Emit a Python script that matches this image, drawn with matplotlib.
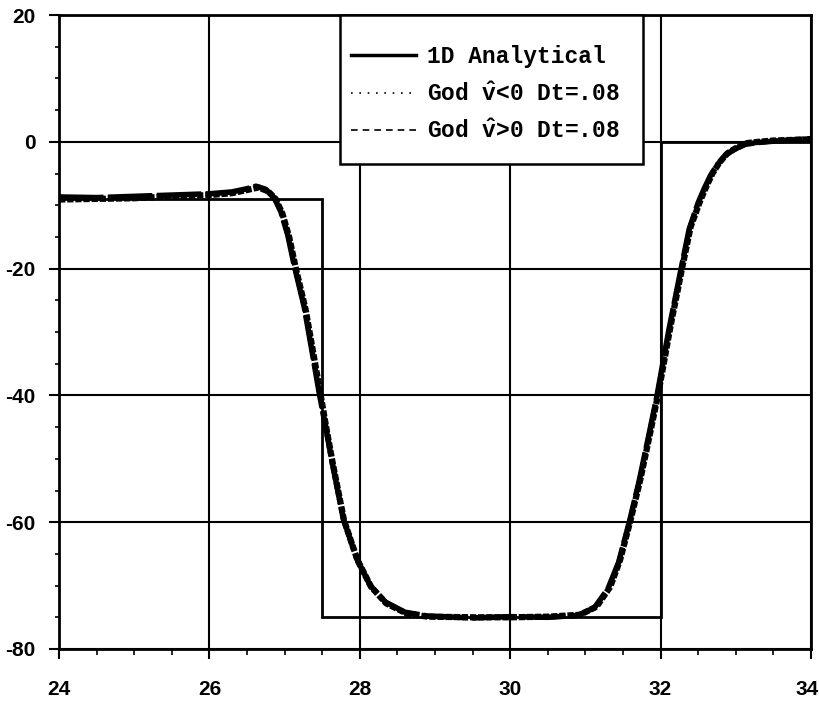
import numpy as np
import matplotlib.pyplot as plt
import matplotlib.transforms as mtransforms
from matplotlib.lines import Line2D
from matplotlib.patches import Rectangle
from matplotlib.ticker import MultipleLocator

plt.rcParams['axes.unicode_minus'] = False
plt.rcParams['font.family'] = ['Liberation Sans Narrow', 'Liberation Sans', 'DejaVu Sans']
plt.rcParams['font.weight'] = 'bold'
plt.rcParams['mathtext.fontset'] = 'custom'
plt.rcParams['mathtext.rm'] = 'Liberation Mono:bold'
plt.rcParams['mathtext.it'] = 'Liberation Mono:bold'

x_ticks = [24, 26, 28, 30, 32, 34]
y_ticks = [-80, -60, -40, -20, 0, 20]

# analytical step profile
x_exact = [24.0, 27.5, 27.5, 32.0, 32.0, 34.0]
y_exact = [-9.0, -9.0, -75.0, -75.0, 0.0, 0.0]

# numerical solution, v_hat < 0
x_neg = [24.0, 24.5, 25.0, 25.5, 26.0, 26.3, 26.5, 26.65, 26.78, 26.88, 26.97, 27.06, 27.15,
         27.28, 27.39, 27.48, 27.56, 27.64, 27.79, 27.97, 28.15, 28.35, 28.62, 28.9, 29.5,
         30.0, 30.5, 30.93, 31.15, 31.33, 31.46, 31.60, 31.73, 31.86, 31.97, 32.13, 32.29,
         32.40, 32.53, 32.61, 32.69, 32.78, 32.89, 33.0, 33.15, 33.3, 33.5, 34.0]
y_neg = [-9.1, -9.0, -8.9, -8.6, -8.4, -8.1, -7.6, -7.2, -7.8, -9.0, -11.3, -15.0, -20.0,
         -26.5, -33.9, -40.0, -45.5, -50.7, -59.7, -66.0, -70.2, -72.8, -74.4, -74.9, -75.0,
         -75.0, -74.9, -74.6, -73.3, -70.2, -66.0, -59.7, -53.3, -46.0, -39.7, -29.2, -19.7,
         -13.4, -9.2, -7.0, -5.0, -3.3, -1.8, -1.0, -0.2, 0.0, 0.2, 0.4]

# numerical solution, v_hat > 0
x_pos = [24.0, 24.5, 25.0, 25.5, 26.0, 26.3, 26.5, 26.62, 26.75, 26.86, 26.95, 27.04, 27.13,
         27.26, 27.37, 27.46, 27.55, 27.63, 27.78, 27.96, 28.14, 28.34, 28.6, 28.9, 29.5,
         30.0, 30.5, 30.9, 31.12, 31.3, 31.44, 31.58, 31.71, 31.84, 31.95, 32.11, 32.27,
         32.38, 32.5, 32.58, 32.66, 32.75, 32.86, 32.98, 33.12, 33.3, 33.5, 34.0]
y_pos = [-8.7, -8.8, -8.6, -8.4, -8.2, -7.9, -7.4, -7.0, -7.5, -8.8, -11.0, -14.6, -19.6,
         -26.0, -33.4, -39.6, -45.2, -50.4, -59.4, -65.8, -70.0, -72.6, -74.2, -74.8, -75.1,
         -74.9, -75.0, -74.7, -73.5, -70.5, -66.4, -60.2, -53.8, -46.5, -40.2, -29.7, -20.2,
         -13.8, -9.6, -7.4, -5.4, -3.7, -2.1, -1.2, -0.4, -0.1, 0.1, 0.5]

fig = plt.figure(figsize=(8.2, 7.02), dpi=100)
ax = fig.add_axes([0.0720, 0.0755, 0.9170, 0.9031])

ax.plot(x_exact, y_exact, color='black', lw=2.0, solid_joinstyle='miter')
ax.plot(x_neg, y_neg, color='black', lw=4.5, linestyle=(0, (1, 0.3)))
ax.plot(x_pos, y_pos, color='black', lw=4.0, linestyle=(0, (8, 0.8)))

ax.set_xlim(24, 34)
ax.set_ylim(-80, 20)
ax.set_xticks(x_ticks)
ax.set_yticks(y_ticks)
ax.xaxis.set_minor_locator(MultipleLocator(0.5))
ax.yaxis.set_minor_locator(MultipleLocator(5))
ax.grid(True, which='major', color='black', lw=1.5)

for s in ax.spines.values():
    s.set_linewidth(2.0)

ax.tick_params(which='major', direction='out', length=7, width=1.5, colors='black',
               labelsize=15)
ax.tick_params(axis='x', which='major', pad=15)
ax.tick_params(axis='y', which='major', pad=10)
ax.tick_params(axis='x', which='minor', direction='out', length=4.5, width=1.2)
ax.tick_params(axis='y', which='minor', direction='out', length=3, width=1.2)

# keep the last x label inside the figure
last = ax.xaxis.get_major_ticks()[-1].label1
last.set_transform(last.get_transform() +
                   mtransforms.ScaledTranslation(-0.04, 0, fig.dpi_scale_trans))

# legend box
ax.add_patch(Rectangle((0.374, 0.765), 0.402, 0.235, transform=ax.transAxes,
                       facecolor='white', edgecolor='black', lw=1.8, zorder=4.9,
                       clip_on=False))

handles = [Line2D([], [], color='black', lw=2.5),
           Line2D([], [], color='black', lw=1.2, linestyle=(0, (1, 4))),
           Line2D([], [], color='black', lw=1.2, linestyle=(0, (4, 3)))]
labels = ['1D Analytical', r'God $\hat{v}$<0 Dt=.08', r'God $\hat{v}$>0 Dt=.08']
leg = ax.legend(handles, labels, loc='upper left', bbox_to_anchor=(0.388, 0.953),
                borderaxespad=0, handlelength=2.84, handletextpad=0.48,
                borderpad=0, labelspacing=0.63, frameon=False,
                prop={'family': ['Liberation Mono', 'DejaVu Sans Mono'],
                      'weight': 'bold', 'size': 16.5})

fig.savefig('out.png', dpi=100)
